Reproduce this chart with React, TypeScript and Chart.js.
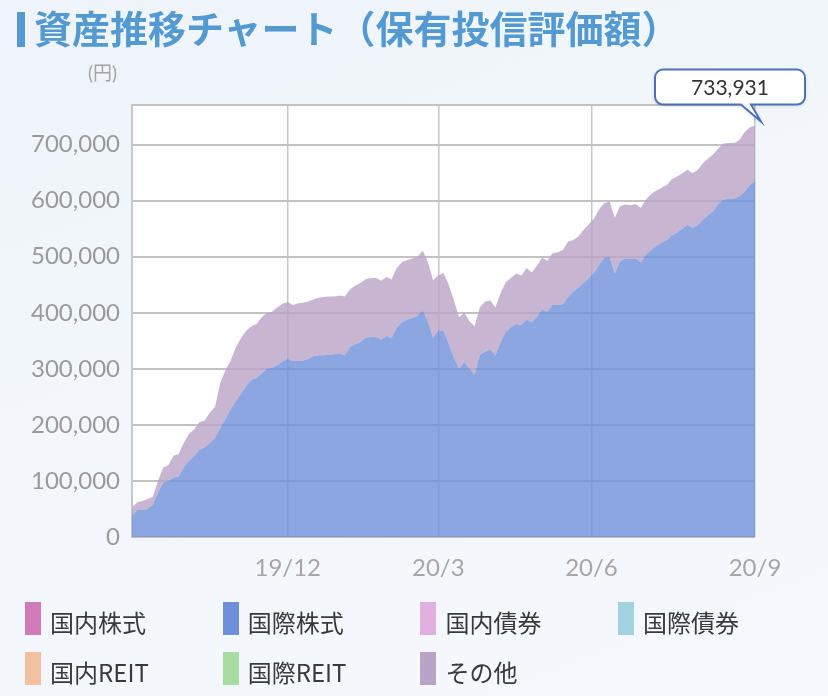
import React, { useEffect, useRef } from 'react';
import { Chart, registerables } from 'chart.js';

Chart.register(...registerables);

// x positions are business-day pairs (index 0..120); ticks at month starts
const xTickPositions = [30, 59, 88.5, 120];
const xTickLabels = ['19/12', '20/3', '20/6', '20/9'];
const yTickValues = [0, 100000, 200000, 300000, 400000, 500000, 600000, 700000];

// 国際株式 (bottom layer)
const foreignStocks = [
  38000, 48000, 48000, 50000, 58000, 80000, 97000, 100000, 106000, 108000,
  125000, 136000, 145000, 155000, 160000, 168000, 177000, 195000, 210000, 228000,
  242000, 256000, 270000, 280000, 284000, 292000, 300000, 302000, 307000, 313000,
  318000, 314000, 314000, 315000, 318000, 323000, 324000, 324000, 325000, 326000,
  328000, 324000, 339000, 344000, 348000, 355000, 357000, 357000, 352000, 359000,
  355000, 374000, 383000, 388000, 391000, 394000, 405000, 384000, 355000, 369000,
  368000, 345000, 320000, 300000, 312000, 300000, 290000, 325000, 330000, 335000,
  324000, 348000, 366000, 374000, 380000, 378000, 388000, 383000, 393000, 406000,
  402000, 414000, 414000, 415000, 428000, 438000, 445000, 453000, 462000, 472000,
  486000, 498000, 500000, 470000, 492000, 497000, 496000, 497000, 490000, 504000,
  512000, 519000, 525000, 530000, 538000, 543000, 550000, 557000, 551000, 557000,
  566000, 574000, 582000, 595000, 602000, 604000, 604000, 608000, 616000, 628000,
  634000,
];

// その他 (stacked on top)
const others = [
  14000, 14000, 16000, 18000, 14000, 20000, 27000, 28000, 39000, 40000,
  43000, 48000, 47000, 50000, 48000, 54000, 55000, 80000, 88000, 87000,
  96000, 99000, 98000, 96000, 96000, 100000, 100000, 100000, 103000, 103000,
  101000, 100000, 103000, 103000, 102000, 101000, 103000, 104000, 104000, 103000,
  103000, 105000, 103000, 104000, 105000, 105000, 105000, 105000, 105000, 105000,
  105000, 106000, 107000, 106000, 106000, 106000, 106000, 106000, 103000, 98000,
  103000, 105000, 102000, 92000, 88000, 85000, 86000, 85000, 90000, 87000,
  86000, 87000, 89000, 88000, 90000, 88000, 92000, 89000, 91000, 92000,
  91000, 92000, 94000, 97000, 99000, 92000, 91000, 95000, 96000, 96000,
  99000, 98000, 98000, 99000, 98000, 96000, 96000, 97000, 97000, 98000,
  100000, 99000, 98000, 98000, 100000, 100000, 99000, 98000, 98000, 98000,
  101000, 101000, 101000, 99000, 100000, 99000, 99000, 100000, 106000, 103000,
  99931,
];

const legendLabels = ['国内株式', '国際株式', '国内債券', '国際債券', '国内REIT', '国際REIT', 'その他'];
const legendColors = ['#d07ab8', '#6e90d8', '#e0b0e0', '#a3d2e0', '#f0c0a0', '#a8dca0', '#b9a3c6'];

const TITLE = '資産推移チャート（保有投信評価額）';
const TITLE_COLOR = '#5399d2';

function AssetChart() {
  const ref = useRef<HTMLCanvasElement>(null);

  useEffect(() => {
    const totals = foreignStocks.map((v, i) => v + others[i]);
    const yMax = Math.max(...totals) * 1.05;
    const tickFont = { family: 'Lato', size: 24 };

    const bgPlugin = {
      id: 'plotBg',
      beforeDraw(chart: any) {
        const { ctx, chartArea } = chart;
        ctx.save();
        ctx.fillStyle = '#ffffff';
        ctx.fillRect(chartArea.left, chartArea.top, chartArea.right - chartArea.left, chartArea.bottom - chartArea.top);
        ctx.restore();
      },
    };

    const calloutPlugin = {
      id: 'callout',
      afterDraw(chart: any) {
        const { ctx } = chart;
        const meta = chart.getDatasetMeta(1);
        const last = meta.data.length - 1;
        const pt = meta.data[last];
        const total = totals[last];
        const tipX = pt.x + 6;
        const tipY = pt.y - 4;
        const bw = 150, bh = 35, r = 8;
        const bx = tipX - 106;
        const by = tipY - 52;
        ctx.save();
        ctx.beginPath();
        ctx.moveTo(bx + r, by);
        ctx.lineTo(bx + bw - r, by);
        ctx.arcTo(bx + bw, by, bx + bw, by + r, r);
        ctx.lineTo(bx + bw, by + bh - r);
        ctx.arcTo(bx + bw, by + bh, bx + bw - r, by + bh, r);
        ctx.lineTo(tipX - 10, by + bh);
        ctx.lineTo(tipX, tipY);
        ctx.lineTo(tipX - 20, by + bh);
        ctx.lineTo(bx + r, by + bh);
        ctx.arcTo(bx, by + bh, bx, by + bh - r, r);
        ctx.lineTo(bx, by + r);
        ctx.arcTo(bx, by, bx + r, by, r);
        ctx.closePath();
        ctx.shadowColor = 'rgba(0,0,0,0.18)';
        ctx.shadowBlur = 4;
        ctx.shadowOffsetY = 1;
        ctx.fillStyle = '#ffffff';
        ctx.fill();
        ctx.shadowColor = 'transparent';
        ctx.lineWidth = 2;
        ctx.strokeStyle = '#4d72b8';
        ctx.stroke();
        ctx.fillStyle = '#333333';
        ctx.font = '21px Lato';
        ctx.textAlign = 'center';
        ctx.textBaseline = 'middle';
        ctx.fillText(total.toLocaleString('en-US'), bx + bw / 2, by + bh / 2 + 1);
        ctx.restore();
      },
    };

    const chart = new Chart(ref.current as HTMLCanvasElement, {
      type: 'line',
      data: {
        datasets: [
          {
            label: '国際株式',
            data: foreignStocks.map((v, i) => ({ x: i, y: v })),
            fill: 'origin',
            backgroundColor: 'rgba(110,144,216,0.8)',
            borderWidth: 0,
            pointRadius: 0,
            tension: 0,
          },
          {
            label: 'その他',
            data: others.map((v, i) => ({ x: i, y: v })),
            fill: '-1',
            backgroundColor: 'rgba(185,163,198,0.8)',
            borderWidth: 0,
            pointRadius: 0,
            tension: 0,
          },
        ],
      },
      options: {
        responsive: false,
        maintainAspectRatio: false,
        animation: false,
        layout: { padding: { left: 0, right: 73, top: 105, bottom: 109 } },
        plugins: { legend: { display: false }, tooltip: { enabled: false } },
        scales: {
          x: {
            type: 'linear',
            min: 0,
            max: foreignStocks.length - 1,
            afterBuildTicks: (s: any) => {
              s.ticks = xTickPositions.map((v) => ({ value: v }));
            },
            afterFit: (s: any) => {
              s.height = 50;
            },
            ticks: {
              autoSkip: false,
              maxRotation: 0,
              padding: 17,
              color: '#a6a6a6',
              font: tickFont,
              callback: (_v: any, i: number) => xTickLabels[i],
            },
            grid: { color: '#c6c6c6', lineWidth: 1.5, drawTicks: false },
            border: { display: false },
          },
          y: {
            stacked: true,
            min: 0,
            max: yMax,
            afterBuildTicks: (s: any) => {
              s.ticks = yTickValues.concat([yMax]).map((v) => ({ value: v }));
            },
            afterFit: (s: any) => {
              s.width = 132;
            },
            ticks: {
              padding: 12,
              color: '#9a9a9a',
              font: tickFont,
              callback: (v: any) => (yTickValues.includes(v) ? Number(v).toLocaleString('en-US') : ''),
            },
            grid: { color: '#c2c2c2', lineWidth: 2, drawTicks: false },
            border: { display: true, color: '#c8c8c8', width: 2 },
          },
        },
      },
      plugins: [bgPlugin, calloutPlugin],
    } as any);

    return () => chart.destroy();
  }, []);

  return (
    <canvas
      ref={ref}
      width={828}
      height={696}
      style={{ position: 'absolute', left: 0, top: 0, width: 828, height: 696 }}
    />
  );
}

export default function App() {
  return (
    <div
      style={{
        position: 'fixed',
        left: 0,
        top: 0,
        width: 828,
        height: 696,
        overflow: 'hidden',
        background: 'linear-gradient(160deg, #eef4fa 0%, #f3f7fb 50%, #f5f8fc 100%)',
      }}
    >
      <AssetChart />
      <div
        style={{ position: 'absolute', left: 17, top: 12, width: 8, height: 35, background: TITLE_COLOR }}
      />
      <div
        style={{
          position: 'absolute',
          left: 34,
          top: 8,
          fontFamily: '"Noto Sans CJK JP", sans-serif',
          fontWeight: 700,
          fontSize: 38,
          lineHeight: '38px',
          color: TITLE_COLOR,
          whiteSpace: 'nowrap',
        }}
      >
        {TITLE}
      </div>
      <div
        style={{
          position: 'absolute',
          left: 88,
          top: 62,
          fontFamily: 'Lato, "Noto Sans CJK JP", sans-serif',
          fontSize: 19,
          lineHeight: '22px',
          color: '#a4a4a4',
          whiteSpace: 'nowrap',
        }}
      >
        (円)
      </div>
      {legendLabels.map((label, k) => {
        const col = k % 4;
        const row = Math.floor(k / 4);
        const left = 25 + col * 197.7;
        const top = 602 + row * 50;
        return (
          <div key={label} style={{ position: 'absolute', left, top, height: 33, display: 'flex' }}>
            <div style={{ width: 16, height: 33, background: legendColors[k] }} />
            <div
              style={{
                marginLeft: 9,
                marginTop: 3,
                fontFamily: '"Noto Sans CJK JP", sans-serif',
                fontSize: 24,
                lineHeight: '33px',
                color: '#3a3a3a',
                whiteSpace: 'nowrap',
              }}
            >
              {label}
            </div>
          </div>
        );
      })}
    </div>
  );
}
